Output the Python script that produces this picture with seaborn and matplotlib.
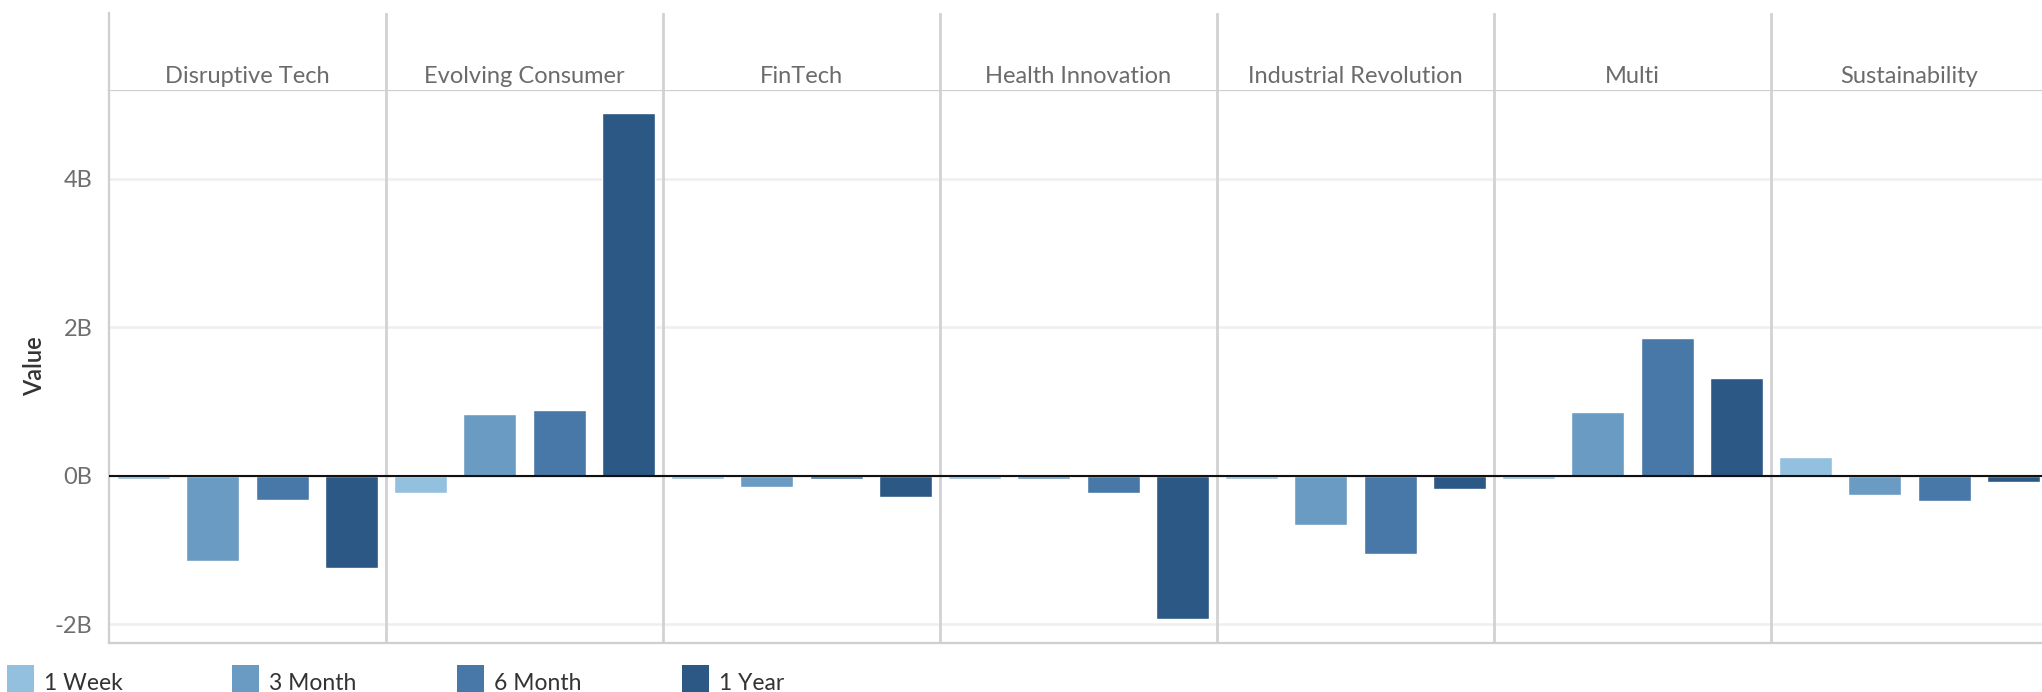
import matplotlib
matplotlib.use("Agg")
import matplotlib.pyplot as plt
import seaborn as sns
import pandas as pd
from matplotlib.patches import Rectangle

categories = ["Disruptive Tech", "Evolving Consumer", "FinTech", "Health Innovation",
              "Industrial Revolution", "Multi", "Sustainability"]
periods = ["1 Week", "3 Month", "6 Month", "1 Year"]
week_1 = [-0.04, -0.23, -0.04, -0.04, -0.04, -0.04, 0.25]
month_3 = [-1.15, 0.83, -0.15, -0.04, -0.66, 0.86, -0.26]
month_6 = [-0.33, 0.89, -0.04, -0.23, -1.06, 1.85, -0.34]
year_1 = [-1.24, 4.89, -0.29, -1.93, -0.18, 1.32, -0.08]
yticks = [-2, 0, 2, 4]
ytick_labels = ["-2B", "0B", "2B", "4B"]
colors = ["#93C0DF", "#6A9BC3", "#4878A7", "#2B5884"]

series = [week_1, month_3, month_6, year_1]
rows = []
for p, vals in zip(periods, series):
    for c, v in zip(categories, vals):
        rows.append({"Category": c, "Period": p, "Value": v})
df = pd.DataFrame(rows)

sns.set_style("white")
plt.rcParams["font.family"] = ["Lato", "DejaVu Sans"]

W, H = 2042, 692
fig = plt.figure(figsize=(W / 100, H / 100), dpi=100)

left_px, right_px = 109, 2042
top_hdr, hdr_bot, plot_bot = 13.3, 89.6, 642.5
panel_px = 277.0
x_max = -0.5 + (right_px - left_px) / panel_px

ax = fig.add_axes([left_px / W, (H - plot_bot) / H, (right_px - left_px) / W, (plot_bot - hdr_bot) / H])
hax = fig.add_axes([left_px / W, (H - hdr_bot) / H, (right_px - left_px) / W, (hdr_bot - top_hdr) / H])

sns.barplot(data=df, x="Category", y="Value", hue="Period", order=categories,
            hue_order=periods, palette=colors, width=1.0, gap=0.235,
            saturation=1, errorbar=None, ax=ax, legend=False, zorder=2)

ax.set_xlim(-0.5, x_max)
ax.set_ylim(-2.247, 5.2)
ax.set_yticks(yticks)
ax.set_yticklabels(ytick_labels)
ax.set_xticks([])
ax.set_xlabel("")
ax.set_ylabel("Value", fontsize=17, color="#333333", labelpad=6, fontweight="semibold")
ax.tick_params(axis="y", labelsize=17, labelcolor="#6e6e6e", color="#e8e8e8",
               length=9, width=1.5, pad=3)
ax.grid(axis="y", color="#efefef", linewidth=1.8, zorder=0)
ax.set_axisbelow(True)
for s in ["left", "bottom", "top"]:
    ax.spines[s].set_color("#cfcfcf")
    ax.spines[s].set_linewidth(1.6)
ax.spines["right"].set_visible(False)
ax.axhline(0, color="#111111", linewidth=1.5, zorder=5)
for i in range(len(categories) - 1):
    ax.axvline(i + 0.5, color="#d2d2d2", linewidth=2, zorder=1)

hax.set_xlim(-0.5, x_max)
hax.set_ylim(0, 1)
hax.set_xticks([])
hax.set_yticks([])
for s in ["top", "right", "bottom"]:
    hax.spines[s].set_visible(False)
hax.spines["left"].set_color("#cfcfcf")
hax.spines["left"].set_linewidth(1.6)
for i, c in enumerate(categories):
    hax.text(i, 0.09, c, ha="center", va="baseline", fontsize=17, color="#6b6b6b")
    if i < len(categories) - 1:
        hax.axvline(i + 0.5, color="#d2d2d2", linewidth=2)

# legend
leg_x0, leg_dx, sq = 7, 225, 27
for i, (p, col) in enumerate(zip(periods, colors)):
    x = leg_x0 + i * leg_dx
    fig.patches.append(Rectangle((x / W, 0), sq / W, sq / H, transform=fig.transFigure,
                                 facecolor=col, edgecolor="none"))
    fig.text((x + sq + 10) / W, 2.5 / H, p, fontsize=16.5, color="#333333",
             ha="left", va="baseline")

fig.savefig("out.png", dpi=100)
